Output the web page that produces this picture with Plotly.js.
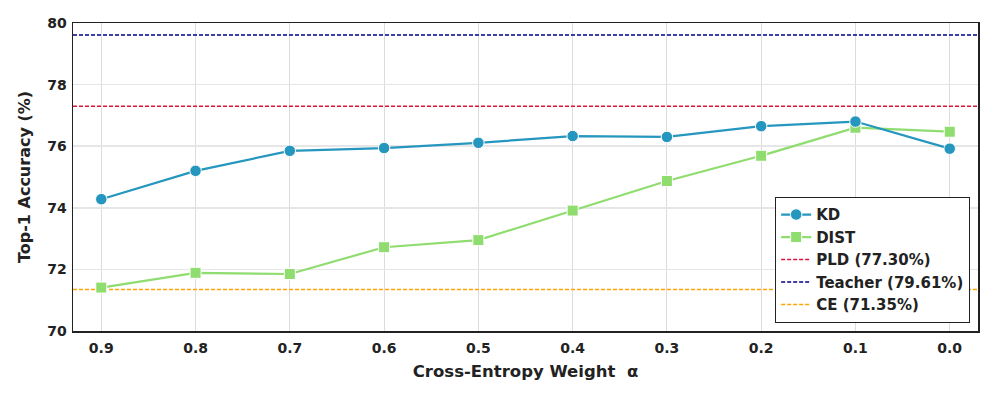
<!DOCTYPE html>
<html>
<head>
<meta charset="utf-8">
<script src="https://cdn.plot.ly/plotly-3.0.1.min.js"></script>
<style>
  html, body { margin: 0; padding: 0; background: #fff; }
  #chart { width: 997px; height: 399px; }
</style>
</head>
<body>
<div id="chart"></div>
<script>
// cross-entropy weight alpha (x axis runs 0.9 -> 0.0)
var alphas = [0.9, 0.8, 0.7, 0.6, 0.5, 0.4, 0.3, 0.2, 0.1, 0.0];
var alphaLabels = ['0.9', '0.8', '0.7', '0.6', '0.5', '0.4', '0.3', '0.2', '0.1', '0.0'];

// top-1 accuracy (%)
var kdAcc   = [74.28, 75.20, 75.85, 75.94, 76.11, 76.33, 76.30, 76.65, 76.80, 75.92];
var distAcc = [71.41, 71.89, 71.85, 72.72, 72.95, 73.91, 74.87, 75.69, 76.60, 76.47];

// reference baselines
var pldAcc = 77.30;
var teacherAcc = 79.61;
var ceAcc = 71.35;

var xRange = [0.93, -0.03];
var font = 'DejaVu Sans';

function refLine(name, val, color, rank) {
  return {
    x: xRange, y: [val, val], mode: 'lines', name: name,
    line: {color: color, width: 1.5, dash: '4px,2px'},
    legendrank: rank, hoverinfo: 'skip'
  };
}

var data = [
  refLine('PLD (77.30%)', pldAcc, '#dc143c', 3),
  refLine('Teacher (79.61%)', teacherAcc, '#00008b', 4),
  refLine('CE (71.35%)', ceAcc, '#ffa500', 5),
  {
    x: alphas, y: distAcc, mode: 'lines+markers', name: 'DIST', legendrank: 2,
    line: {color: '#8fdc6f', width: 2.2},
    marker: {symbol: 'square', size: 11, color: '#8fdc6f', line: {color: '#fff', width: 1}}
  },
  {
    x: alphas, y: kdAcc, mode: 'lines+markers', name: 'KD', legendrank: 1,
    line: {color: '#2596be', width: 2.2},
    marker: {symbol: 'circle', size: 11.5, color: '#2596be', line: {color: '#fff', width: 1}}
  }
];

var layout = {
  width: 997, height: 399,
  margin: {l: 73, r: 19, t: 23, b: 68},
  paper_bgcolor: '#fff', plot_bgcolor: '#fff',
  font: {family: font, color: '#222'},
  showlegend: true,
  legend: {
    x: 0.991, y: 0.026, xanchor: 'right', yanchor: 'bottom',
    bgcolor: '#fff', bordercolor: '#222', borderwidth: 1.3,
    font: {family: font, size: 15, color: '#222', weight: 'bold'},
    tracegroupgap: 0, itemwidth: 30
  },
  xaxis: {
    range: xRange, tickvals: alphas, ticktext: alphaLabels,
    showgrid: true, gridcolor: '#dcdcdc', gridwidth: 1,
    showline: true, mirror: true, linecolor: '#222', linewidth: 1.5,
    ticks: '', zeroline: false, ticklabelstandoff: 4,
    tickfont: {family: font, size: 14, color: '#222', weight: 'bold'},
    title: {text: 'Cross-Entropy Weight  α', standoff: 10,
            font: {family: font, size: 16.5, color: '#222', weight: 'bold'}}
  },
  yaxis: {
    range: [70, 80], tickvals: [70, 72, 74, 76, 78, 80],
    showgrid: true, gridcolor: '#e6e6e6', gridwidth: 1.5,
    showline: true, mirror: true, linecolor: '#222', linewidth: 1.5,
    ticks: '', zeroline: false, ticklabelstandoff: 2,
    tickfont: {family: font, size: 14, color: '#222', weight: 'bold'},
    title: {text: 'Top-1 Accuracy (%)', standoff: 12,
            font: {family: font, size: 16, color: '#222', weight: 'bold'}}
  }
};

Plotly.newPlot('chart', data, layout, {displayModeBar: false, staticPlot: true});
</script>
</body>
</html>
